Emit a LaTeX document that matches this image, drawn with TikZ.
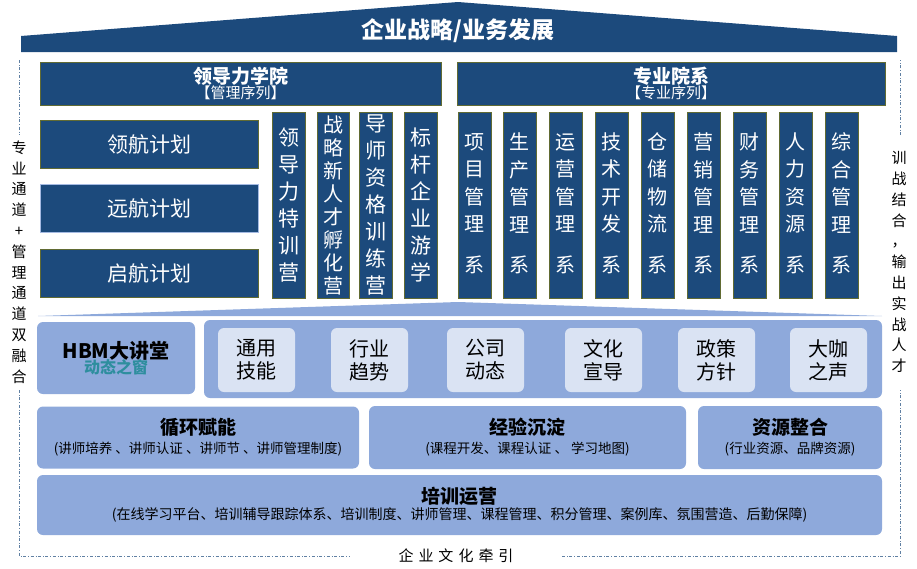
\documentclass[tikz,border=0pt]{standalone}
\usepackage{fontspec}
\setmainfont{Noto Sans CJK SC}
\begin{document}
\begin{tikzpicture}[x=1pt,y=-1pt,
 dk/.style={draw=olive!70!green!60!black,line width=1pt,fill=dkb,text=white,inner sep=0pt},
 lt/.style={fill=ltb,rounded corners=6pt,inner sep=0pt},
 inn/.style={fill=inb,rounded corners=6pt,inner sep=0pt,font=\fontsize{20}{23}\selectfont,align=center},
 vt/.style={align=center,font=\fontsize{21}{27}\selectfont,text=white},
 frame/.style={draw=dkb!70,dash dot,line width=0.8pt}]
\definecolor{dkb}{HTML}{1C4A7C}
\definecolor{ltb}{HTML}{8EA9DB}
\definecolor{inb}{HTML}{DAE3F3}
\definecolor{teal}{HTML}{2E8E9E}
\useasboundingbox (0,0) rectangle (917,568);
% roof
\fill[dkb] (21,36) -- (458,2) -- (897,36) -- (897,52) -- (21,52) -- cycle;
\node[text=white,font=\bfseries\fontsize{23}{26}\selectfont] (roof) at (458,31) {企业战略/业务发展};
\fill[ltb] (38,316) -- (458,302) -- (882,316) -- cycle;
% frame
\coordinate (f1) at (19,60); \coordinate (f2) at (19,135);
\coordinate (f3) at (19,390); \coordinate (f4) at (19,556);
\coordinate (f5) at (350,556); \coordinate (f6) at (562,556);
\coordinate (f7) at (900,556); \coordinate (f8) at (900,390);
\coordinate (f9) at (900,135); \coordinate (f10) at (900,60);
\draw[frame] (f1)--(f2); \draw[frame] (f3)--(f4)--(f5);
\draw[frame] (f6)--(f7)--(f8); \draw[frame] (f9)--(f10);
\node[font=\fontsize{15}{17}\selectfont] (cul) at (456,556) {企\,\,业\,\,文\,\,化\,\,牵\,\,引};
\node[align=center,font=\fontsize{15}{20.8}\selectfont] (lside) at (19,262) {专\\业\\通\\道\\+\\管\\理\\通\\道\\双\\融\\合};
\node[align=center,font=\fontsize{15}{20.8}\selectfont] (rside) at (899,262) {训\\战\\结\\合\\，\\输\\出\\实\\战\\人\\才};
% academies
\node[dk,minimum width=401pt,minimum height=43pt,align=center,font=\fontsize{15}{17}\selectfont] (lead) at (240.5,83.5) {{\bfseries\fontsize{19}{21}\selectfont 领导力学院}\\[-2pt]【管理序列】};
\node[dk,minimum width=428pt,minimum height=43pt,align=center,font=\fontsize{15}{17}\selectfont] (prof) at (671,83.5) {{\bfseries\fontsize{19}{21}\selectfont 专业院系}\\[-2pt]【专业序列】};
\node[dk,minimum width=218pt,minimum height=48pt,font=\fontsize{21}{23}\selectfont] (p1) at (149,144) {领航计划};
\node[dk,draw=ltb!80!white,minimum width=218pt,minimum height=48pt,font=\fontsize{21}{23}\selectfont] (p2) at (149,208) {远航计划};
\node[dk,minimum width=218pt,minimum height=48pt,font=\fontsize{21}{23}\selectfont] (p3) at (149,273) {启航计划};
\foreach \n/\x/\t in {v1/288.5/{领\\导\\力\\特\\训\\营}, v3/376/{导\\师\\资\\格\\训\\练\\营}, v4/420.5/{标\\杆\\企\\业\\游\\学}}{
 \node[dk,minimum width=33pt,minimum height=186pt] (\n) at (\x,205) {};
 \node[vt] at (\n) {\t};}
\node[dk,minimum width=32pt,minimum height=186pt] (v2) at (333,205) {};
\node[vt,font=\fontsize{20}{23}\selectfont] at (v2) {战\\略\\新\\人\\才\\孵\\化\\营};
\foreach \n/\x/\a/\b/\c/\d in {r1/474.5/项/目/管/理, r2/519.5/生/产/管/理, r3/565.5/运/营/管/理, r4/611.5/技/术/开/发, r5/657.5/仓/储/物/流, r6/703.5/营/销/管/理, r7/749.5/财/务/管/理, r8/795.5/人/力/资/源, r9/841.5/综/合/管/理}{
 \node[dk,minimum width=33pt,minimum height=186pt] (\n) at (\x,205) {};
 \node[vt,font=\fontsize{20}{27.5}\selectfont] at (\x,183) {\a\\\b\\\c\\\d};
 \node[vt,font=\fontsize{20}{23}\selectfont] at (\x,265) {系};}
% lecture
\node[lt,minimum width=158pt,minimum height=72pt,align=center] (hbm) at (116,358) {{\bfseries\fontsize{20}{23}\selectfont HBM大讲堂}\\[-2pt]{\color{teal}\bfseries\fontsize{16}{18}\selectfont 动态之窗}};
\node[lt,minimum width=678pt,minimum height=78pt] (big) at (543,359) {};
\foreach \n/\x/\t in {i1/256.5/{通用\\技能}, i2/369.5/{行业\\趋势}, i3/485.5/{公司\\动态}, i4/603.5/{文化\\宣导}, i5/716.5/{政策\\方针}, i6/828.5/{大咖\\之声}}
 \node[inn,minimum width=77pt,minimum height=64pt] (\n) at (\x,360) {\t};
% row 3
\node[lt,minimum width=322pt,minimum height=62pt,align=center,font=\fontsize{13.5}{16}\selectfont] (c1) at (198,437.5) {{\bfseries\fontsize{19}{21}\selectfont 循环赋能}\\[3pt](讲师培养 、讲师认证 、讲师节 、讲师管理制度)};
\node[lt,minimum width=317pt,minimum height=63pt,align=center,font=\fontsize{13.5}{16}\selectfont] (c2) at (527.5,437.5) {{\bfseries\fontsize{19}{21}\selectfont 经验沉淀}\\[3pt](课程开发、课程认证 、 学习地图)};
\node[lt,minimum width=184pt,minimum height=63pt,align=center,font=\fontsize{13.5}{16}\selectfont] (c3) at (790,437.5) {{\bfseries\fontsize{19}{21}\selectfont 资源整合}\\[3pt](行业资源、品牌资源)};
\node[lt,minimum width=845pt,minimum height=60pt,align=center,font=\fontsize{14}{16}\selectfont] (ops) at (459.5,505) {{\bfseries\fontsize{19}{21}\selectfont 培训运营}\\[0pt](在线学习平台、培训辅导跟踪体系、培训制度、讲师管理、课程管理、积分管理、案例库、氛围营造、后勤保障)};
\end{tikzpicture}
\end{document}
